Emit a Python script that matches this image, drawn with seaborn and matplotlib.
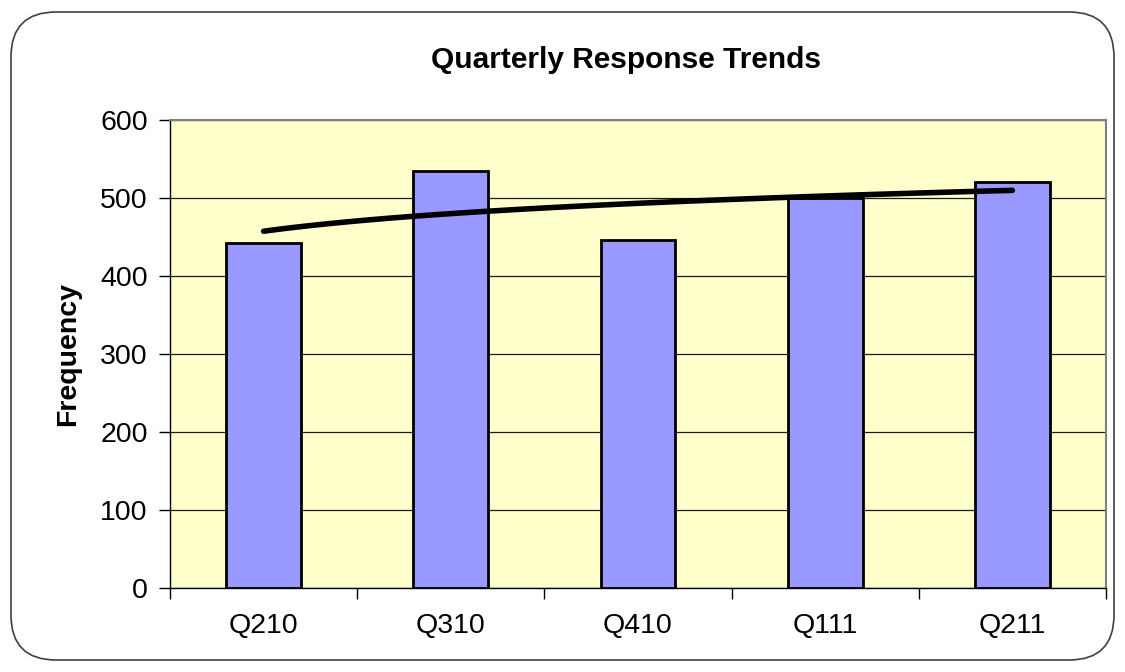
import numpy as np
import pandas as pd
import matplotlib
matplotlib.use('Agg')
import matplotlib.pyplot as plt
import seaborn as sns
from matplotlib.patches import FancyBboxPatch

quarters = ['Q210', 'Q310', 'Q410', 'Q111', 'Q211']
frequency = [442, 534, 446, 500, 521]
y_ticks = [0, 100, 200, 300, 400, 500, 600]

sns.set_style('white')
plt.rcParams['font.family'] = ['Liberation Sans', 'DejaVu Sans']
plt.rcParams['text.color'] = 'black'
plt.rcParams['axes.labelcolor'] = 'black'
plt.rcParams['xtick.color'] = 'black'
plt.rcParams['ytick.color'] = 'black'
plt.rcParams['xtick.bottom'] = True
plt.rcParams['ytick.left'] = True

df = pd.DataFrame({'quarter': quarters, 'frequency': frequency})

fig = plt.figure(figsize=(11.25, 6.72), dpi=100)
ax = fig.add_axes([0.1511, 0.125, 0.832, 0.6964])

# rounded chart border
border = FancyBboxPatch((11 / 1125, 12 / 672), 1103 / 1125, 648 / 672,
                        boxstyle='round,pad=0,rounding_size=0.04',
                        transform=fig.transFigure, fill=False,
                        edgecolor='#404040', linewidth=1.2, mutation_aspect=1125 / 672)
fig.patches.append(border)

ax.set_facecolor('#FFFFCC')
sns.barplot(data=df, x='quarter', y='frequency', color='#9999FF',
            saturation=1, width=0.4, edgecolor='black', linewidth=2,
            ax=ax, zorder=3)

# logarithmic trend line, fitted like Excel does
pos = np.arange(1, len(frequency) + 1)
b, a = np.polyfit(np.log(pos), frequency, 1)
xs = np.linspace(1, len(frequency), 100)
ax.plot(xs - 1, a + b * np.log(xs), color='black', linewidth=4,
        solid_capstyle='round', zorder=4)

ax.set_ylim(0, 600)
ax.set_xlim(-0.5, len(quarters) - 0.5)
ax.set_yticks(y_ticks)
ax.set_yticklabels([str(t) for t in y_ticks], fontsize=20.5)
ax.set_xticks(range(len(quarters)))
ax.set_xticklabels(quarters, fontsize=20.5)
ax.yaxis.grid(True, color='#1a1a1a', linewidth=0.9, zorder=0)
ax.set_axisbelow(True)

ax.set_xticks(np.arange(-0.5, len(quarters)), minor=True)
ax.tick_params(axis='x', which='major', length=0, pad=18, bottom=True)
ax.tick_params(axis='x', which='minor', length=8, width=1, direction='out',
               color='black', bottom=True)
ax.tick_params(axis='y', which='major', length=8, width=1, direction='out',
               color='black', pad=8, left=True)

for side in ['top', 'right']:
    ax.spines[side].set_color('#808080')
    ax.spines[side].set_linewidth(1.5)
for side in ['left', 'bottom']:
    ax.spines[side].set_color('black')
    ax.spines[side].set_linewidth(1)

ax.set_xlabel('')
ax.set_ylabel('Frequency', fontsize=20.5, fontweight='bold', labelpad=14)
fig.text(0.5564, 0.91, 'Quarterly Response Trends', ha='center', va='center',
         fontsize=21.5, fontweight='bold')

fig.savefig('out.png', dpi=100)
